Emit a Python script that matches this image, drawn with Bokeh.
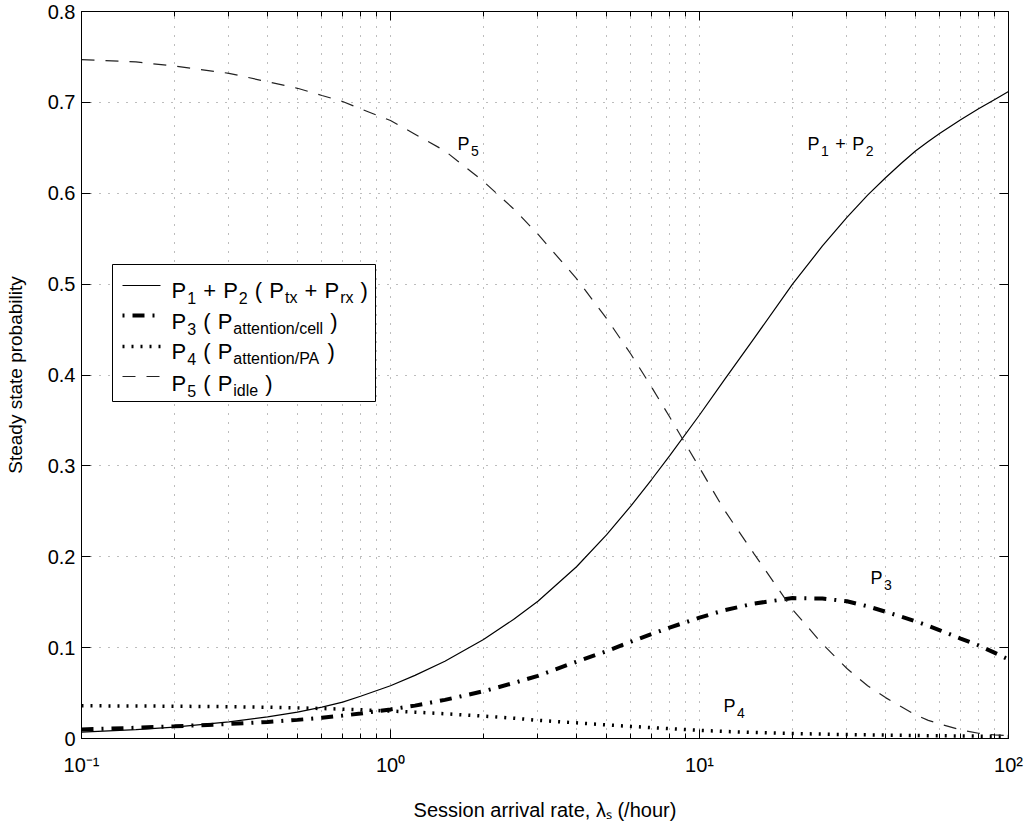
import re
from bokeh.plotting import figure
from bokeh.models import (FixedTicker, LogAxis, LinearAxis, Range1d, Label,
                          BoxAnnotation, Arrow)
from bokeh.embed import file_html
from bokeh.resources import INLINE

# ---------------- data ----------------
rate = [0.1, 0.15, 0.2, 0.3, 0.4, 0.5, 0.6, 0.7, 0.8, 1.0, 1.2, 1.5, 2, 2.5,
        3, 4, 5, 6, 7, 8, 10, 12, 15, 20, 25, 30, 35, 40, 45, 50, 55, 60, 70,
        80, 90, 100]
p12 = [0.0070, 0.0098, 0.0125, 0.0183, 0.0237, 0.0290, 0.0345, 0.0400,
       0.0465, 0.0580, 0.0695, 0.0850, 0.1090, 0.1310, 0.1510, 0.1890,
       0.2240, 0.2560, 0.2850, 0.3110, 0.3560, 0.3940, 0.4400, 0.5000,
       0.5420, 0.5735, 0.5980, 0.6170, 0.6330, 0.6465, 0.6570, 0.6660,
       0.6810, 0.6930, 0.7030, 0.7120]
p3 = [0.0100, 0.0118, 0.0134, 0.0160, 0.0182, 0.0205, 0.0228, 0.0252, 0.0275,
      0.0320, 0.0362, 0.0425, 0.0520, 0.0610, 0.0690, 0.0845, 0.0960, 0.1065,
      0.1150, 0.1220, 0.1330, 0.1410, 0.1485, 0.1545, 0.1540, 0.1510, 0.1455,
      0.1395, 0.1340, 0.1290, 0.1240, 0.1190, 0.1100, 0.1025, 0.0945, 0.0870]
p4 = [0.0360, 0.0358, 0.0355, 0.0350, 0.0344, 0.0337, 0.0330, 0.0323, 0.0316,
      0.0302, 0.0290, 0.0272, 0.0247, 0.0224, 0.0200, 0.0172, 0.0150, 0.0133,
      0.0120, 0.0109, 0.0090, 0.0078, 0.0066, 0.0055, 0.0048, 0.0043, 0.0040,
      0.0037, 0.0035, 0.0033, 0.0031, 0.0030, 0.0028, 0.0026, 0.0025, 0.0023]
p5 = [0.747, 0.7445, 0.740, 0.732, 0.7227, 0.7155, 0.7076, 0.701, 0.693,
      0.680, 0.665, 0.6466, 0.613, 0.583, 0.555, 0.506, 0.4624, 0.4228,
      0.3866, 0.354, 0.298, 0.252, 0.2035, 0.142, 0.104, 0.077, 0.058, 0.045,
      0.035, 0.026, 0.020, 0.016, 0.0095, 0.0058, 0.0040, 0.0030]

x_ticks = [0.1, 1, 10, 100]
x_minor = [0.2, 0.3, 0.4, 0.5, 0.6, 0.7, 0.8, 0.9, 2, 3, 4, 5, 6, 7, 8, 9,
           20, 30, 40, 50, 60, 70, 80, 90]
x_tick_labels = ["10\u207b\u00b9", "10\u2070", "10\u00b9", "10\u00b2"]
y_ticks = [0, 0.1, 0.2, 0.3, 0.4, 0.5, 0.6, 0.7, 0.8]
y_tick_labels = ["0", "0.1", "0.2", "0.3", "0.4", "0.5", "0.6", "0.7", "0.8"]

x_title = "Session arrival rate, \u03bb\u209b (/hour)"
y_title = "Steady state probability"

legend_texts = ["P_{1} + P_{2} ( P_{tx} + P_{rx} )",
                "P_{3} ( P_{attention/cell} )",
                "P_{4} ( P_{attention/PA} )",
                "P_{5} ( P_{idle} )"]
curve_labels = ["P_{5}", "P_{1} + P_{2}", "P_{3}", "P_{4}"]
curve_label_x = [1.647, 22.37, 35.77, 11.96]
curve_label_y = [0.6545, 0.6545, 0.1762, 0.0361]

# ---------------- styling helpers ----------------
FONT = "Liberation Sans"
W = {' ': 278, '(': 333, ')': 333, '+': 584, '/': 278, '.': 278, '-': 333,
     'P': 667, 'A': 667, 'a': 556, 'c': 500, 'd': 556, 'e': 556, 'i': 222,
     'l': 222, 'n': 556, 'o': 556, 'r': 333, 't': 278, 'x': 500}


def tw(s, size):
    return sum(W.get(c, 556) for c in s) * size / 1000.0


def parse(s):
    out = []
    for m in re.finditer(r"_\{([^}]*)\}|([^_]+)", s):
        if m.group(1) is not None:
            out.append((m.group(1), True))
        else:
            out.append((m.group(2), False))
    return out


def add_rich(p, s, x, y, units, size, sub_size, drop, gap=1.0):
    off = 0.0
    for text, sub in parse(s):
        fs = sub_size if sub else size
        parts = text.split(" ")
        for i, w in enumerate(parts):
            if w:
                common = dict(text=w, text_font=FONT,
                              text_font_size=f"{fs}px", text_color="black",
                              text_align="left", text_baseline="alphabetic")
                if units == "screen":
                    lab = Label(x=x + off, y=y - (drop if sub else 0),
                                x_units="screen", y_units="screen", **common)
                else:
                    lab = Label(x=x, y=y, x_offset=off,
                                y_offset=-(drop if sub else 0), **common)
                p.add_layout(lab)
                off += tw(w, fs) + gap
            if i < len(parts) - 1:
                off += tw(" ", fs)


# ---------------- figure ----------------
p = figure(width=1024, height=826, x_axis_type="log",
           x_range=Range1d(0.1, 100), y_range=Range1d(0, 0.8),
           output_backend="svg", toolbar_location=None,
           min_border_left=81, min_border_right=16, min_border_top=11,
           min_border_bottom=88,
           background_fill_color="white", border_fill_color="white")
p.outline_line_color = "black"
p.outline_line_width = 1

xt = FixedTicker(ticks=x_ticks, minor_ticks=x_minor)
yt = FixedTicker(ticks=y_ticks, minor_ticks=[])

ax = p.xaxis[0]
ax.ticker = xt
ax.major_label_overrides = dict(zip(x_ticks, x_tick_labels))
ay = p.yaxis[0]
ay.ticker = yt
ay.major_label_overrides = dict(zip(y_ticks, y_tick_labels))

for a in (ax, ay):
    a.axis_line_color = "black"
    a.major_tick_line_color = "black"
    a.minor_tick_line_color = "black"
    a.major_tick_in = 9
    a.major_tick_out = 0
    a.minor_tick_in = 5
    a.minor_tick_out = 0
    a.major_label_text_font = FONT
    a.major_label_text_font_size = "20px"
    a.major_label_text_color = "black"
    a.axis_label_text_font = FONT
    a.axis_label_text_font_style = "normal"
    a.axis_label_text_color = "black"

ay.minor_tick_line_color = None
ax.axis_label = x_title
ay.axis_label = y_title
ax.axis_label_text_font_size = "20px"
ay.axis_label_text_font_size = "19px"
ax.major_label_standoff = 15
ax.axis_label_standoff = 20
ay.major_label_standoff = 6
ay.axis_label_standoff = 19

top = LogAxis(ticker=xt, major_label_text_font_size="0px",
              major_label_standoff=0, major_tick_in=9, major_tick_out=0,
              minor_tick_in=5, minor_tick_out=0, axis_line_color="black",
              major_tick_line_color="black", minor_tick_line_color="black")
top.major_label_overrides = {t: "" for t in x_ticks}
p.add_layout(top, "above")
right = LinearAxis(ticker=yt, major_label_text_font_size="0px",
                   major_label_standoff=0, major_tick_in=9, major_tick_out=0,
                   minor_tick_line_color=None, axis_line_color="black",
                   major_tick_line_color="black")
right.major_label_overrides = {t: "" for t in y_ticks}
p.add_layout(right, "right")

p.xgrid.ticker = xt
p.ygrid.ticker = yt
for g in (p.xgrid, p.ygrid):
    g.grid_line_color = "#7a7a7a"
    g.grid_line_dash = "1 8"
    g.grid_line_width = 1
p.xgrid.minor_grid_line_color = "#7a7a7a"
p.xgrid.minor_grid_line_dash = "1 8"

# ---------------- curves ----------------
S12 = dict(line_color="black", line_width=1.2)
S3 = dict(line_color="black", line_width=4, line_dash="12 8 2 8")
S4 = dict(line_color="black", line_width=3.5, line_dash="2 7")
S5 = dict(line_color="#222222", line_width=1.2, line_dash="13 11")
p.line(rate, p12, **S12)
p.line(rate, p3, **S3)
p.line(rate, p4, **S4)
p.line(rate, p5, **S5)

# ---------------- curve labels ----------------
for s, lx, ly in zip(curve_labels, curve_label_x, curve_label_y):
    add_rich(p, s, lx, ly, "data", 18, 14, 7, gap=1.5)

# ---------------- legend (frame-relative screen px, y up) ----------------
p.add_layout(BoxAnnotation(left=31, right=294, top=474, bottom=337,
                           left_units="screen", right_units="screen",
                           top_units="screen", bottom_units="screen",
                           fill_color="white", fill_alpha=1.0,
                           line_color="black", line_width=1, line_alpha=1.0))
row_line_y = [453, 423, 392, 362]
row_base_y = [448, 417, 387, 355]
styles = [S12, S3, S4, S5]
dash_off = [0, 20, 0, 0]
for st, ly, do in zip(styles, row_line_y, dash_off):
    p.add_layout(Arrow(x_start=41, y_start=ly, x_end=79, y_end=ly,
                       start_units="screen", end_units="screen",
                       start=None, end=None, line_dash_offset=do, **st))
for s, by in zip(legend_texts, row_base_y):
    add_rich(p, s, 90, by, "screen", 22, 16, 7, gap=1.0)

open("out.html", "w").write(file_html(p, INLINE))
